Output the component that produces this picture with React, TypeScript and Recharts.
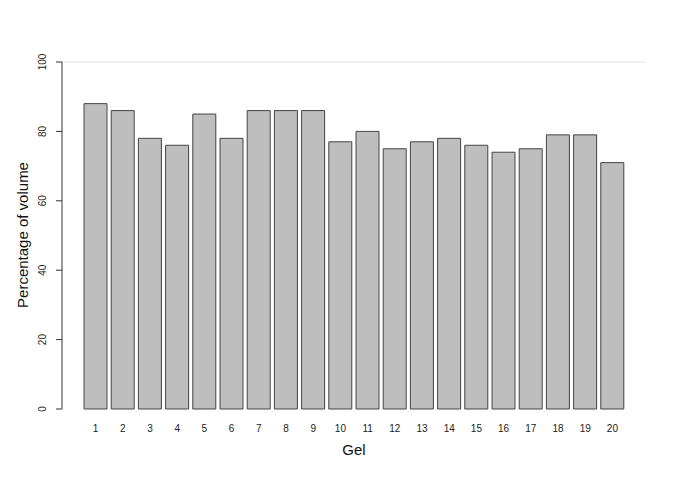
import { BarChart, Bar, XAxis, YAxis, ReferenceLine } from "recharts"

const gels = ["1", "2", "3", "4", "5", "6", "7", "8", "9", "10", "11", "12", "13", "14", "15", "16", "17", "18", "19", "20"];
const volumePct = [88, 86, 78, 76, 85, 78, 86, 86, 86, 77, 80, 75, 77, 78, 76, 74, 75, 79, 79, 71];
const yTicks = [0, 20, 40, 60, 80, 100];

const data = gels.map((g, i) => ({ gel: g, value: volumePct[i] }));

const font = "'Liberation Sans', Arial, sans-serif";

const YTick = ({ x, y, payload }: any) => (
  <text
    x={x - 8}
    y={y}
    transform={`rotate(-90 ${x - 8} ${y})`}
    textAnchor="middle"
    fontSize={10}
    fill="#222"
    fontFamily={font}
  >
    {payload.value}
  </text>
);

const XTick = ({ x, y, payload }: any) => (
  <text x={x} y={y + 11} textAnchor="middle" dominantBaseline="central" fontSize={10} fill="#222" fontFamily={font}>
    {payload.value}
  </text>
);

export default function App() {
  return (
    <div style={{ position: "absolute", left: 0, top: 0, background: "#fff" }}>
      <BarChart width={685} height={484} data={data} margin={{ top: 62, right: 39, left: 0, bottom: 0 }}>
        <XAxis
          dataKey="gel"
          axisLine={false}
          tickLine={false}
          tick={<XTick />}
          height={75}
          interval={0}
          padding={{ left: 20, right: 20 }}
        />
        <YAxis
          width={62}
          domain={[0, 100]}
          ticks={yTicks}
          stroke="#333"
          tickSize={6}
          tick={<YTick />}
        />
        <ReferenceLine y={100} stroke="#e2e2e2" strokeWidth={1} />
        <Bar dataKey="value" fill="#bebebe" stroke="#444" strokeWidth={1} barSize={23} isAnimationActive={false} />
        <text x={354} y={449} textAnchor="middle" dominantBaseline="central" fontSize={15} fill="#111" fontFamily={font}>
          Gel
        </text>
        <text
          x={22}
          y={235}
          transform="rotate(-90 22 235)"
          textAnchor="middle"
          dominantBaseline="central"
          fontSize={15}
          fill="#111"
          fontFamily={font}
        >
          Percentage of volume
        </text>
      </BarChart>
    </div>
  )
}
